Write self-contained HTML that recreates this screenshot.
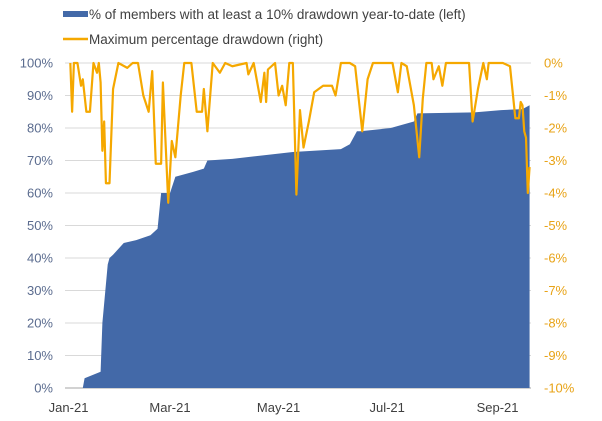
<!DOCTYPE html>
<html><head><meta charset="utf-8"><style>
body{margin:0;background:#fff;}
svg{display:block;font-family:"Liberation Sans",sans-serif;}
</style></head><body>
<svg id="chart" width="602" height="421">
<g id="grid"></g>
<g id="area"></g>
<g id="line"></g>
<g id="yl"></g>
<g id="yr"></g>
<g id="xa"></g>
<g>
<rect x="63" y="11" width="25" height="6" fill="#4369A8"/>
<text x="89" y="19" font-size="13.5" fill="#404040">% of members with at least a 10% drawdown year-to-date (left)</text>
<line x1="63" y1="39" x2="88" y2="39" stroke="#F5A800" stroke-width="2.5"/>
<text x="89" y="44" font-size="13.5" fill="#404040">Maximum percentage drawdown (right)</text>
</g>
</svg>
<script>
const areaDays=[3,10,11,20,21,24,25,27,33,40,48,52,54,59,62,72,78,80,94,110,128,155,160,164,166,183,196,198,230,245,257,261];
const areaVals=[0,0,3,5,20,38,40,41,44.6,45.5,47,49,60,60,65,66.5,67.5,70,70.5,71.5,72.6,73.5,75,79,79,80,82,84.5,84.8,85.5,85.8,87];
const lineDays=[3,4,5,7,9,10,12,14,16,18,19,20,21,22,23,25,27,30,35,38,41,44,47,49,51,54,55,58,60,62,65,67,71,74,77,78,80,83,87,90,94,102,103,106,110,112,113,114,118,120,122,124,126,128,130,132,134,137,140,145,150,152,155,160,163,167,170,173,184,187,189,192,196,199,201,203,206,207,210,212,214,219,223,227,229,232,235,237,238,246,250,253,255,256,257,258,259,260,261];
const lineVals=[0,-1.5,0,0,-0.7,-0.5,-1.5,-1.5,0,-0.3,0,-0.6,-2.7,-1.8,-3.7,-3.7,-0.8,0,-0.15,0,0,-1,-1.5,-0.25,-3.1,-3.1,-0.6,-4.3,-2.4,-2.9,-1,0,0,-1.5,-1.5,-0.8,-2.1,0,-0.3,0,-0.1,0,-0.35,0,-1.2,-0.3,-1.2,-0.2,0,-1,-0.7,-1.3,0,0,-4.05,-1.45,-2.6,-1.8,-0.9,-0.7,-0.7,-1,0,0,-0.1,-2.1,-0.5,0,0,-0.9,0,-0.1,-1.3,-2.9,-1.1,0,0,-0.5,-0.1,-0.7,0,0,0,0,-1.8,-0.8,0,-0.5,0,0,-0.1,-1.7,-1.7,-1.2,-1.3,-2.1,-2.3,-4.0,-3.2];
const leftTicks=["0%","10%","20%","30%","40%","50%","60%","70%","80%","90%","100%"];
const rightTicks=["0%","-1%","-2%","-3%","-4%","-5%","-6%","-7%","-8%","-9%","-10%"];
const xLabels=["Jan-21","Mar-21","May-21","Jul-21","Sep-21"];
const xLabelDays=[2,59,120,181,243];
const NS="http://www.w3.org/2000/svg";
const X0=65,PX=1.78,Y0=388,Y1=63;
const xs=d=>X0+d*PX;
const yl=v=>Y0-(v/100)*(Y0-Y1);
const yr=v=>Y1+(-v/10)*(Y0-Y1);
function mk(t,a,p){const e=document.createElementNS(NS,t);for(const k in a)e.setAttribute(k,a[k]);p.appendChild(e);return e;}
const g=document.getElementById('grid');
leftTicks.forEach((t,i)=>{const y=yl(i*10);
 const l=mk('line',{x1:X0,x2:531,y1:y,y2:y,stroke:i==0?'#a6a6a6':'#d9d9d9','stroke-width':1},g);
 
 
 const a=mk('text',{x:53,y:y+4.5,'text-anchor':'end','font-size':13,fill:'#5B6C8F'},document.getElementById('yl'));a.textContent=t;
 
 
 const b=mk('text',{x:544,y:yr(-i)+4.5,'font-size':13,fill:'#E8A317'},document.getElementById('yr'));b.textContent=rightTicks[i];
 
 
});
xLabels.forEach((t,i)=>{const a=mk('text',{x:xs(xLabelDays[i]),y:412,'text-anchor':'middle','font-size':13,fill:'#404040'},document.getElementById('xa'));a.textContent=t;
 
 
});
let d='M'+xs(areaDays[0])+','+Y0;
areaDays.forEach((dd,i)=>{d+=' L'+xs(dd)+','+yl(areaVals[i]);});
d+=' L'+xs(areaDays[areaDays.length-1])+','+Y0+' Z';
const ar=mk('path',{d:d,fill:'#4369A8'},document.getElementById('area'));


const pts=lineDays.map((dd,i)=>xs(dd)+','+yr(lineVals[i])).join(' ');
const pl=mk('polyline',{points:pts,fill:'none',stroke:'#F5A800','stroke-width':2.2,'stroke-linejoin':'round'},document.getElementById('line'));


</script>
</body></html>
